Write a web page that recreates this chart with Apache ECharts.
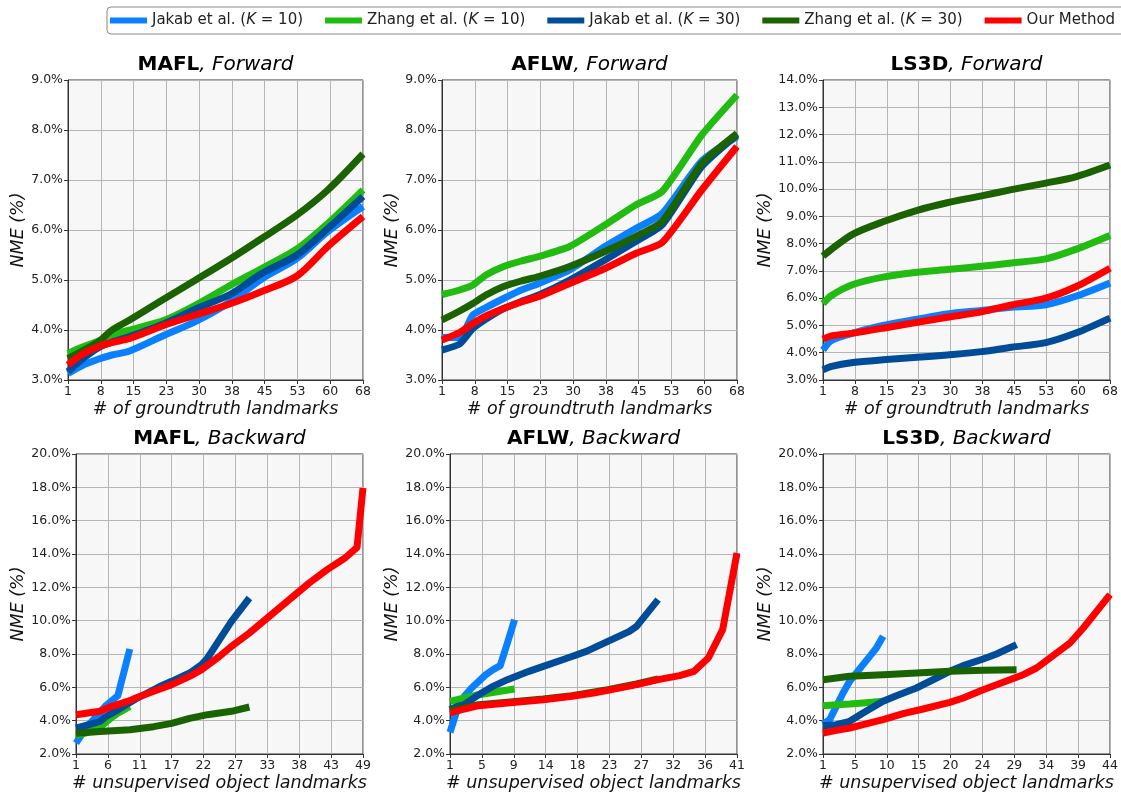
<!DOCTYPE html>
<html>
<head>
<meta charset="utf-8">
<script src="https://cdn.jsdelivr.net/npm/echarts@6/dist/echarts.min.js"></script>
<style>
  html, body { margin: 0; padding: 0; background: #ffffff; }
  #chart { width: 1121px; height: 793px; }
</style>
</head>
<body>
<div id="chart"></div>
<script>
// ---------- data ----------
const seriesNames = [
  'Jakab et al. (K = 10)',
  'Zhang et al. (K = 10)',
  'Jakab et al. (K = 30)',
  'Zhang et al. (K = 30)',
  'Our Method'
];

// tick labels along the x axes (10 evenly spaced grid lines)
const maflFwdTicks = [1, 8, 15, 23, 30, 38, 45, 53, 60, 68];
const aflwFwdTicks = [1, 8, 15, 23, 30, 38, 45, 53, 60, 68];
const ls3dFwdTicks = [1, 8, 15, 23, 30, 38, 45, 53, 60, 68];
const maflBwdTicks = [1, 6, 11, 17, 22, 27, 33, 38, 43, 49];
const aflwBwdTicks = [1, 5, 9, 14, 18, 23, 27, 32, 36, 41];
const ls3dBwdTicks = [1, 5, 10, 15, 20, 24, 29, 34, 39, 44];

// MAFL, forward (NME % vs # of groundtruth landmarks)
const maflFwdX = [1, 4, 8, 11, 15, 23, 30, 38, 45, 53, 60, 68];
const maflFwdJakab10 = [3.13, 3.28, 3.42, 3.50, 3.58, 3.90, 4.17, 4.57, 5.02, 5.43, 5.97, 6.47];
const maflFwdZhang10 = [3.53, 3.65, 3.78, 3.90, 4.00, 4.20, 4.50, 4.90, 5.23, 5.62, 6.13, 6.80];
const maflFwdJakab30 = [3.17, 3.40, 3.65, 3.76, 3.87, 4.13, 4.42, 4.72, 5.13, 5.50, 6.03, 6.67];
const maflFwdZhang30 = [3.43, 3.57, 3.77, 4.00, 4.20, 4.63, 5.00, 5.43, 5.83, 6.30, 6.80, 7.52];
const maflFwdOurs    = [3.30, 3.50, 3.67, 3.75, 3.83, 4.10, 4.30, 4.53, 4.77, 5.08, 5.67, 6.27];

// AFLW, forward
const aflwFwdX = [1, 5, 8, 11, 15, 19, 23, 30, 38, 45, 51, 60, 68];
const aflwFwdJakab10 = [3.85, 3.85, 4.30, 4.45, 4.63, 4.80, 4.93, 5.20, 5.67, 6.03, 6.33, 7.38, 7.87];
const aflwFwdZhang10 = [4.71, 4.80, 4.90, 5.10, 5.27, 5.38, 5.47, 5.67, 6.10, 6.50, 6.77, 7.90, 8.70];
const aflwFwdJakab30 = [3.60, 3.72, 4.03, 4.22, 4.43, 4.57, 4.70, 5.00, 5.40, 5.77, 6.10, 7.27, 7.90];
const aflwFwdZhang30 = [4.20, 4.38, 4.53, 4.70, 4.87, 4.98, 5.07, 5.27, 5.57, 5.87, 6.17, 7.33, 7.93];
const aflwFwdOurs    = [3.80, 3.95, 4.13, 4.28, 4.43, 4.56, 4.67, 4.93, 5.23, 5.53, 5.75, 6.80, 7.67];

// LS3D, forward
const ls3dFwdX = [1, 3, 8, 15, 23, 30, 38, 45, 53, 60, 68];
const ls3dFwdJakab10 = [4.10, 4.45, 4.72, 5.00, 5.23, 5.42, 5.55, 5.67, 5.76, 6.07, 6.56];
const ls3dFwdZhang10 = [5.80, 6.10, 6.50, 6.77, 6.95, 7.05, 7.17, 7.29, 7.44, 7.79, 8.30];
const ls3dFwdJakab30 = [3.37, 3.50, 3.64, 3.74, 3.83, 3.92, 4.04, 4.20, 4.37, 4.72, 5.27];
const ls3dFwdZhang30 = [7.54, 7.80, 8.35, 8.80, 9.22, 9.50, 9.75, 9.98, 10.22, 10.45, 10.88];
const ls3dFwdOurs    = [4.50, 4.62, 4.72, 4.90, 5.12, 5.30, 5.50, 5.75, 6.00, 6.42, 7.10];

// MAFL, backward (NME % vs # unsupervised object landmarks)
const maflBwdJakab10X = [1, 2, 3, 4, 5, 6, 7, 8, 9, 10];
const maflBwdJakab10  = [2.65, 3.20, 3.70, 4.10, 4.50, 4.90, 5.20, 5.50, 6.90, 8.30];
const maflBwdZhang10X = [1, 3, 5, 7, 8, 10];
const maflBwdZhang10  = [3.10, 3.30, 3.60, 4.20, 4.45, 4.85];
const maflBwdJakab30X = [1, 3, 5, 6, 8, 11, 15, 17, 20, 22, 23, 25, 27, 30];
const maflBwdJakab30  = [3.55, 3.75, 3.95, 4.25, 4.65, 5.30, 6.05, 6.36, 6.86, 7.36, 7.76, 8.86, 9.96, 11.36];
const maflBwdZhang30X = [1, 5, 10, 14, 17, 20, 23, 27, 30];
const maflBwdZhang30  = [3.25, 3.35, 3.46, 3.64, 3.84, 4.14, 4.36, 4.56, 4.82];
const maflBwdOursX = [1, 3, 5, 7, 10, 11, 14, 17, 20, 22, 25, 27, 30, 33, 36, 38, 40, 43, 46, 48, 49];
const maflBwdOurs  = [4.36, 4.46, 4.56, 4.86, 5.20, 5.36, 5.76, 6.16, 6.66, 7.06, 7.86, 8.46, 9.26, 10.16, 11.06, 11.66, 12.26, 13.06, 13.76, 14.40, 17.96];

// AFLW, backward
const aflwBwdJakab10X = [1, 2, 3, 4, 5, 6, 7, 8, 9, 10];
const aflwBwdJakab10  = [3.30, 4.66, 5.46, 5.96, 6.36, 6.76, 7.06, 7.30, 8.66, 10.06];
const aflwBwdZhang10X = [1, 3, 5, 8, 10];
const aflwBwdZhang10  = [5.16, 5.36, 5.56, 5.76, 5.90];
const aflwBwdJakab30X = [1, 2, 3, 5, 7, 9, 12, 14, 17, 20, 23, 26, 27, 30];
const aflwBwdJakab30  = [4.66, 4.86, 4.96, 5.56, 6.06, 6.46, 6.96, 7.26, 7.70, 8.16, 8.76, 9.36, 9.66, 11.26];
const aflwBwdZhang30X = [1, 5, 9, 14, 18, 23, 27, 30];
const aflwBwdZhang30  = [4.62, 4.96, 5.10, 5.30, 5.50, 5.86, 6.20, 6.50];
const aflwBwdOursX = [1, 3, 5, 9, 14, 18, 21, 23, 27, 30, 33, 35, 37, 39, 41];
const aflwBwdOurs  = [4.46, 4.70, 4.90, 5.06, 5.26, 5.46, 5.66, 5.82, 6.16, 6.46, 6.70, 6.96, 7.76, 9.46, 14.06];

// LS3D, backward
const ls3dBwdJakab10X = [1, 2, 3, 4, 5, 6, 7, 8, 9, 10];
const ls3dBwdJakab10  = [3.80, 4.06, 4.86, 5.66, 6.36, 6.86, 7.36, 7.86, 8.36, 9.06];
const ls3dBwdZhang10X = [1, 3, 5, 7, 10];
const ls3dBwdZhang10  = [4.90, 4.96, 5.00, 5.06, 5.16];
const ls3dBwdJakab30X = [1, 3, 5, 7, 10, 12, 15, 18, 20, 22, 25, 27, 30];
const ls3dBwdJakab30  = [3.70, 3.76, 3.96, 4.46, 5.16, 5.50, 5.96, 6.56, 6.96, 7.30, 7.70, 8.00, 8.56];
const ls3dBwdZhang30X = [1, 3, 5, 10, 15, 20, 25, 30];
const ls3dBwdZhang30  = [6.46, 6.56, 6.66, 6.76, 6.86, 6.96, 7.02, 7.06];
const ls3dBwdOursX = [1, 3, 5, 7, 10, 13, 16, 20, 22, 25, 28, 31, 33, 35, 38, 40, 42, 44];
const ls3dBwdOurs  = [3.26, 3.42, 3.56, 3.76, 4.06, 4.42, 4.70, 5.10, 5.36, 5.86, 6.30, 6.76, 7.16, 7.76, 8.66, 9.56, 10.56, 11.56];

// ---------- styling ----------
const FONT = 'DejaVu Sans';
const colors = ['#0a80ff', '#22bb11', '#004c99', '#1a6300', '#ff0000'];
const LINE_W = 7;

const zip = (xs, ys) => xs.map((x, i) => [x, ys[i]]);

const panels = [
  { name: 'MAFL', dir: 'Forward', ticks: maflFwdTicks, y: [3, 9, 1],
    xname: '# of groundtruth landmarks', box: [68, 80, 295, 300], smooth: 0.3,
    lines: [zip(maflFwdX, maflFwdJakab10), zip(maflFwdX, maflFwdZhang10), zip(maflFwdX, maflFwdJakab30),
            zip(maflFwdX, maflFwdZhang30), zip(maflFwdX, maflFwdOurs)] },
  { name: 'AFLW', dir: 'Forward', ticks: aflwFwdTicks, y: [3, 9, 1],
    xname: '# of groundtruth landmarks', box: [442, 80, 295, 300], smooth: 0.2,
    lines: [zip(aflwFwdX, aflwFwdJakab10), zip(aflwFwdX, aflwFwdZhang10), zip(aflwFwdX, aflwFwdJakab30),
            zip(aflwFwdX, aflwFwdZhang30), zip(aflwFwdX, aflwFwdOurs)] },
  { name: 'LS3D', dir: 'Forward', ticks: ls3dFwdTicks, y: [3, 14, 1],
    xname: '# of groundtruth landmarks', box: [823, 80, 287, 300], smooth: 0.3,
    lines: [zip(ls3dFwdX, ls3dFwdJakab10), zip(ls3dFwdX, ls3dFwdZhang10), zip(ls3dFwdX, ls3dFwdJakab30),
            zip(ls3dFwdX, ls3dFwdZhang30), zip(ls3dFwdX, ls3dFwdOurs)] },
  { name: 'MAFL', dir: 'Backward', ticks: maflBwdTicks, y: [2, 20, 2],
    xname: '# unsupervised object landmarks', box: [76, 454, 287, 300], smooth: false,
    lines: [zip(maflBwdJakab10X, maflBwdJakab10), zip(maflBwdZhang10X, maflBwdZhang10),
            zip(maflBwdJakab30X, maflBwdJakab30), zip(maflBwdZhang30X, maflBwdZhang30),
            zip(maflBwdOursX, maflBwdOurs)] },
  { name: 'AFLW', dir: 'Backward', ticks: aflwBwdTicks, y: [2, 20, 2],
    xname: '# unsupervised object landmarks', box: [450, 454, 287, 300], smooth: false,
    lines: [zip(aflwBwdJakab10X, aflwBwdJakab10), zip(aflwBwdZhang10X, aflwBwdZhang10),
            zip(aflwBwdJakab30X, aflwBwdJakab30), zip(aflwBwdZhang30X, aflwBwdZhang30),
            zip(aflwBwdOursX, aflwBwdOurs)] },
  { name: 'LS3D', dir: 'Backward', ticks: ls3dBwdTicks, y: [2, 20, 2],
    xname: '# unsupervised object landmarks', box: [823, 454, 287, 300], smooth: false,
    lines: [zip(ls3dBwdJakab10X, ls3dBwdJakab10), zip(ls3dBwdZhang10X, ls3dBwdZhang10),
            zip(ls3dBwdJakab30X, ls3dBwdJakab30), zip(ls3dBwdZhang30X, ls3dBwdZhang30),
            zip(ls3dBwdOursX, ls3dBwdOurs)] }
];

const grids = [], xAxes = [], yAxes = [], titles = [], series = [];

panels.forEach((p, i) => {
  const [left, top, width, height] = p.box;
  grids.push({
    left, top, width, height, show: true,
    backgroundColor: '#f7f7f7', borderColor: '#333', borderWidth: 1
  });

  // value axis that positions the data
  xAxes.push({
    type: 'value', gridIndex: i, position: 'top', show: false,
    min: p.ticks[0], max: p.ticks[p.ticks.length - 1]
  });
  // evenly spaced tick / grid axis carrying the labels
  xAxes.push({
    type: 'category', gridIndex: i, position: 'bottom', boundaryGap: false,
    data: p.ticks.map(String),
    axisLine: { show: true, lineStyle: { color: '#333', width: 1 } },
    axisTick: { show: true, length: 4, interval: 0, lineStyle: { color: '#333' } },
    axisLabel: { interval: 0, margin: 5, fontFamily: FONT, fontSize: 12.5, color: '#222' },
    splitLine: { show: true, interval: 0, lineStyle: { color: '#b5b5b5', width: 1 } },
    name: p.xname, nameLocation: 'middle', nameGap: 20,
    nameTextStyle: { fontFamily: FONT, fontStyle: 'italic', fontSize: 17.5, color: '#111' }
  });

  yAxes.push({
    type: 'value', gridIndex: i,
    min: p.y[0], max: p.y[1], interval: p.y[2],
    axisLine: { show: true, lineStyle: { color: '#333', width: 1 } },
    axisTick: { show: true, length: 4, lineStyle: { color: '#333' } },
    axisLabel: { margin: 5, fontFamily: FONT, fontSize: 12.5, color: '#222',
                 formatter: v => v.toFixed(1) + '%' },
    splitLine: { show: true, lineStyle: { color: '#b5b5b5', width: 1 } },
    name: 'NME (%)', nameLocation: 'middle',
    nameGap: (i === 0 || i === 1) ? 41 : 49,
    nameTextStyle: { fontFamily: FONT, fontStyle: 'italic', fontSize: 17.5, color: '#111' }
  });

  titles.push({
    text: '{b|' + p.name + '}{i|, ' + p.dir + '}',
    left: left + width / 2, top: top - 25, textAlign: 'center', padding: 0,
    textStyle: {
      fontWeight: 'normal',
      rich: {
        b: { fontFamily: FONT, fontWeight: 'bold', fontStyle: 'normal', fontSize: 20, color: '#000' },
        i: { fontFamily: FONT, fontWeight: 'normal', fontStyle: 'italic', fontSize: 20, color: '#000' }
      }
    }
  });

  p.lines.forEach((d, k) => {
    series.push({
      name: seriesNames[k], type: 'line',
      xAxisIndex: 2 * i, yAxisIndex: i,
      data: d, showSymbol: false, symbol: 'none',
      smooth: p.smooth, clip: true,
      color: colors[k],
      lineStyle: { width: LINE_W, color: colors[k], cap: 'butt', join: 'round' },
      emphasis: { disabled: true },
      z: 2 + k
    });
  });
});

const chart = echarts.init(document.getElementById('chart'), null, { renderer: 'canvas' });
chart.setOption({
  animation: false,
  backgroundColor: '#ffffff',
  title: titles,
  legend: {
    data: seriesNames,
    left: 107, top: 7, width: 1100,
    orient: 'horizontal',
    icon: 'rect', itemWidth: 37, itemHeight: 6, itemGap: 22,
    padding: [6, 20, 6, 3],
    borderColor: '#888', borderWidth: 1, borderRadius: 4,
    backgroundColor: '#ffffff',
    selectedMode: false,
    textStyle: {
      fontFamily: FONT, fontSize: 15, color: '#222',
      rich: { i: { fontFamily: FONT, fontStyle: 'italic', fontSize: 15, color: '#222' } }
    },
    formatter: name => name.replace('(K', '({i|K}')
  },
  grid: grids,
  xAxis: xAxes,
  yAxis: yAxes,
  series: series
});
</script>
</body>
</html>
